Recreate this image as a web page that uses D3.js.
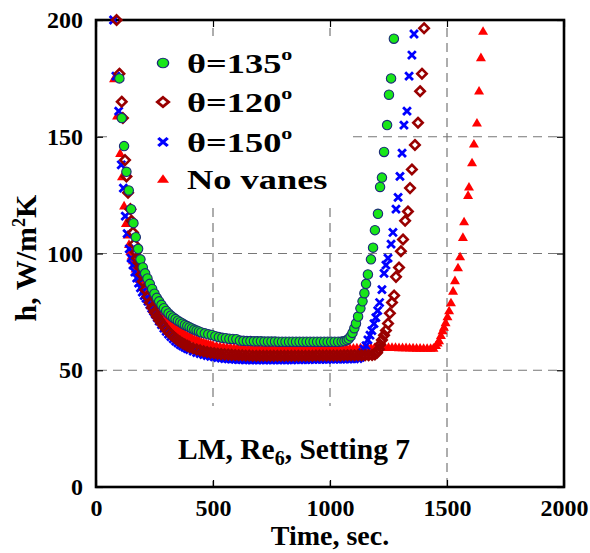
<!DOCTYPE html>
<html>
<head>
<meta charset="utf-8">
<script src="https://cdn.jsdelivr.net/npm/d3@7/dist/d3.min.js"></script>
<style>
  body { margin: 0; background: #fff; }
  svg { display: block; }
  text { font-family: "Liberation Serif", "Times New Roman", serif; font-weight: bold; fill: #000; }
</style>
</head>
<body>
<svg id="chart" width="590" height="553"></svg>
<script>
// Axis ticks
const xTicks = [0, 500, 1000, 1500, 2000];
const yTicks = [0, 50, 100, 150, 200];
const xGrid = [500, 1000, 1500];
const yGrid = [50, 100, 150];

// Heat transfer coefficient h (W/m²K) against time (s): [time, h]
const theta135 = [
  [100,175],[110,158],[120,146],[130,135],[140,127],[150,119],[160,113],[170,107],[180,102],[190,97.5],
  [200,94],[210,91.5],[220,89.3],[230,87],[240,84.8],[250,82.8],[260,81],[270,79.5],[280,78],[290,76.6],
  [300,75.4],[310,74.3],[320,73.4],[330,72.6],[340,71.9],[350,71.2],[360,70.6],[370,70],[380,69.4],[390,68.9],
  [400,68.4],[410,67.9],[420,67.4],[430,67],[440,66.6],[450,66.2],[465,65.8],[480,65.4],[495,65.1],[510,64.6],
  [525,64.2],[540,63.9],[555,63.7],[570,63.5],[585,63.4],[600,63.3],[615,62.7],[630,62.6],[645,62.5],[660,62.5],
  [675,62.4],[690,62.4],[705,62.4],[720,62.3],[735,62.3],[750,62.3],[765,62.3],[780,62.2],[795,62.2],[810,62.2],
  [825,62.2],[840,62.2],[855,62.2],[870,62.2],[885,62.2],[900,62.2],[915,62.2],[930,62.2],[945,62.2],[960,62.2],
  [975,62.2],[990,62.2],[1005,62.2],[1020,62.2],[1035,62.2],[1050,62.3],[1062,62.5],[1072,62.9],[1080,63.5],[1088,64.5],
  [1096,66],[1104,68],[1111,70],[1120,73],[1130,76.5],[1139,79.5],[1147,83],[1154,87],[1162,91],[1175,97.5],
  [1184,102.5],[1192,110],[1205,117],[1214,128.5],[1222,132.5],[1231,143.5],[1244,155],[1252,168],[1261,175],[1273,192]
];
const theta120 = [
  [88,200],[100,177],[110,165],[115,158],[124,140],[130,133],[137,126],[147,119],[152,114],[158,109],
  [163,104],[170,100.5],[175,98],[182,96],[188,94],[194,91],[200,88],[210,84.5],[220,81.5],[230,79],
  [240,76.8],[250,74.8],[260,73],[270,71.4],[280,70],[290,68.7],[300,67.5],[310,66.4],[320,65.4],[330,64.5],
  [340,63.7],[350,62.9],[360,62.2],[370,61.6],[380,61],[390,60.5],[400,60],[415,59.4],[430,58.9],[445,58.5],
  [460,58.1],[475,57.8],[490,57.5],[505,57.3],[520,57.1],[535,56.9],[550,56.8],[565,56.7],[580,56.6],[595,56.5],
  [610,56.4],[625,56.4],[640,56.3],[655,56.3],[670,56.2],[685,56.2],[700,56.2],[715,56.2],[730,56.2],[745,56.2],
  [760,56.2],[775,56.2],[790,56.2],[805,56.2],[820,56.2],[835,56.2],[850,56.2],[865,56.2],[880,56.2],[895,56.2],
  [910,56.2],[925,56.2],[940,56.3],[955,56.3],[970,56.3],[985,56.3],[1000,56.3],[1015,56.3],[1030,56.3],[1045,56.3],
  [1060,56.4],[1075,56.4],[1090,56.4],[1105,56.4],[1120,56.4],[1135,56.4],[1150,56.4],[1165,56.4],[1180,56.5],[1192,56.8],
  [1201,57.5],[1209,59],[1214,61],[1222,63],[1231,65],[1239,67],[1248,70],[1256,74.4],[1265,79],[1274,82],
  [1282,90],[1295,94],[1303,101],[1312,106],[1321,114],[1333,118],[1342,128],[1350,136],[1363,146.5],[1376,156],
  [1385,169.5],[1393,177],[1402,196.5]
];
const theta150 = [
  [75,200],[85,176],[97,161],[108,138],[117,128],[125,116],[133,108.5],[142,102],[150,98],[158,95],
  [166,92],[174,89.5],[182,87.3],[190,85.3],[198,83.5],[206,82],[214,80.8],[222,79.5],[230,78],[238,76.5],
  [246,75.2],[254,73.8],[262,72.4],[270,71],[280,69.5],[290,68],[300,66.7],[310,65.5],[320,64.4],[330,63.4],
  [340,62.5],[350,61.7],[360,61],[370,60.4],[380,59.8],[390,59.3],[400,58.8],[415,58.2],[430,57.6],[445,57.1],
  [460,56.7],[475,56.3],[490,56],[505,55.7],[520,55.4],[535,55.2],[550,55],[565,54.9],[580,54.8],[595,54.7],
  [610,54.6],[625,54.6],[640,54.5],[655,54.5],[670,54.4],[685,54.4],[700,54.4],[715,54.4],[730,54.4],[745,54.4],
  [760,54.4],[775,54.5],[790,54.5],[805,54.5],[820,54.5],[835,54.5],[850,54.6],[865,54.6],[880,54.6],[895,54.6],
  [910,54.6],[925,54.7],[940,54.7],[955,54.7],[970,54.7],[985,54.7],[1000,54.8],[1015,54.8],[1030,54.8],[1045,54.8],
  [1060,54.8],[1075,54.9],[1090,54.9],[1105,54.9],[1120,55],[1130,55.5],[1138,57.5],[1145,59],[1154,60.5],[1162,63],
  [1171,65],[1179,67],[1188,70],[1196,72.5],[1204,75.5],[1212,79],[1222,84.5],[1231,91.5],[1239,95],[1248,98],
  [1261,104],[1269,109],[1282,119],[1291,124],[1299,133],[1308,143],[1316,155],[1329,161],[1338,176],[1350,185],
  [1359,194]
];
const noVanes = [
  [77,175],[90,159],[103,143],[111,133],[120,120.5],[128,113],[135,108],[141,104],[147,101],[152,99],
  [158,97],[163,95.5],[169,93.5],[175,92],[182,90.3],[188,89],[194,87.7],[200,86.5],[210,84.5],[220,82.7],
  [230,81],[240,79.4],[250,78],[260,76.7],[270,75.4],[280,74.2],[290,73.1],[300,72],[310,71],[320,70.1],
  [330,69.2],[340,68.4],[350,67.6],[360,66.9],[370,66.2],[380,65.6],[390,65],[400,64.5],[410,64],[420,63.5],
  [430,63.1],[440,62.7],[450,62.3],[460,62],[470,61.7],[480,61.4],[490,61.1],[500,60.9],[515,60.6],[530,60.4],
  [545,60.2],[560,60],[575,59.9],[590,59.8],[605,59.7],[620,59.6],[635,59.6],[650,59.5],[665,59.5],[680,59.5],
  [695,59.5],[710,59.4],[725,59.4],[740,59.5],[755,59.4],[770,59.3],[785,59.4],[800,59.4],[815,59.3],[830,59.4],
  [845,59.4],[860,59.3],[875,59.3],[890,59.4],[905,59.4],[920,59.3],[935,59.3],[950,59.4],[965,59.4],[980,59.3],
  [995,59.3],[1010,59.4],[1025,59.4],[1040,59.5],[1055,59.5],[1070,59.5],[1085,59.6],[1100,59.6],[1115,59.7],[1130,59.7],
  [1145,59.7],[1160,59.8],[1175,59.8],[1190,59.8],[1205,59.9],[1220,59.9],[1235,59.9],[1250,59.9],[1265,59.9],[1280,59.9],
  [1295,59.8],[1310,59.8],[1325,59.8],[1340,59.7],[1355,59.7],[1370,59.6],[1385,59.6],[1400,59.5],[1415,59.5],[1430,59.5],
  [1442,59.6],[1453,60.7],[1460,61.8],[1466,62.8],[1474,65],[1481,67],[1487,68.5],[1494,70.5],[1502,73],[1509,75.6],
  [1517,79],[1526,84],[1534,88.5],[1547,94],[1556,98.7],[1568,107],[1573,113.7],[1590,125],[1594,128.6],[1607,139],
  [1615,147],[1628,156],[1637,169.7],[1645,184],[1654,195.3]
];

const legendLabels = ["θ=135", "θ=120", "θ=150", "No vanes"];

const svg = d3.select("#chart");
const x = d3.scaleLinear().domain([0, 2000]).range([96, 564]);
const y = d3.scaleLinear().domain([0, 200]).range([487, 20]);

// Marker styles
const markers = {
  circle: g => g.append("circle").attr("r", 4.7).attr("fill", "#19e619").attr("stroke", "#1c2a78").attr("stroke-width", 1.1),
  diamond: g => g.append("path").attr("d", "M0,-4.7L4.7,0L0,4.7L-4.7,0Z").attr("fill", "none").attr("stroke", "#990000").attr("stroke-width", 2.6),
  cross: g => g.append("path").attr("d", "M-3.9,-3.9L3.9,3.9M3.9,-3.9L-3.9,3.9").attr("fill", "none").attr("stroke", "#0000ff").attr("stroke-width", 2.8),
  triangle: g => g.append("path").attr("d", "M0,-4.8L5,3.8L-5,3.8Z").attr("fill", "#ff0000")
};

// Grid lines
const grid = svg.append("g").attr("stroke", "#777").attr("stroke-width", 1.2).attr("stroke-dasharray", "9,6");
grid.selectAll("line.v").data(xGrid).join("line").attr("class", "v")
  .attr("x1", d => x(d)).attr("x2", d => x(d)).attr("y1", y(200) + 8).attr("y2", y(0));
grid.selectAll("line.h").data(yGrid).join("line").attr("class", "h")
  .attr("x1", x(0) + 2).attr("x2", x(2000) - 6).attr("y1", d => y(d)).attr("y2", d => y(d));

// Legend and annotation backgrounds
svg.append("rect").attr("x", 111).attr("y", 36).attr("width", 236).attr("height", 167).attr("fill", "#fff");
svg.append("rect").attr("x", 160).attr("y", 406).attr("width", 280).attr("height", 75).attr("fill", "#fff");

// Axes with inward ticks
const axB = svg.append("g").attr("transform", `translate(0,${y(0)})`)
  .call(d3.axisBottom(x).tickValues(xTicks).tickSize(-7).tickPadding(12).tickFormat(d3.format("d")));
const axL = svg.append("g").attr("transform", `translate(${x(0)},0)`)
  .call(d3.axisLeft(y).tickValues(yTicks).tickSize(-7).tickPadding(13).tickFormat(d3.format("d")));
const axT = svg.append("g").attr("transform", `translate(0,${y(200)})`)
  .call(d3.axisTop(x).tickValues(xTicks).tickSize(-7).tickFormat(""));
const axR = svg.append("g").attr("transform", `translate(${x(2000)},0)`)
  .call(d3.axisRight(y).tickValues(yTicks).tickSize(-7).tickFormat(""));
[axB, axL, axT, axR].forEach(a => {
  a.attr("font-family", "Liberation Serif, serif").attr("font-size", 24);
  a.select(".domain").remove();
  a.selectAll(".tick line").attr("stroke", "#000").attr("stroke-width", 1.2);
  a.selectAll("text").attr("font-size", 24).attr("font-weight", "bold");
});

// Plot frame
svg.append("rect").attr("x", x(0)).attr("y", y(200)).attr("width", x(2000) - x(0)).attr("height", y(0) - y(200))
  .attr("fill", "none").attr("stroke", "#000").attr("stroke-width", 2.6);

// Data series, drawn bottom to top
const series = [
  { data: noVanes, marker: "triangle" },
  { data: theta150, marker: "cross" },
  { data: theta120, marker: "diamond" },
  { data: theta135, marker: "circle" }
];
series.forEach(s => {
  const g = svg.append("g");
  g.selectAll("g").data(s.data).join("g")
    .attr("transform", d => `translate(${x(d[0])},${y(d[1])})`)
    .each(function () { markers[s.marker](d3.select(this)); });
});

// Legend
const legendMarkers = ["circle", "diamond", "cross", "triangle"];
const legendRows = [63, 102, 142, 179];
legendLabels.forEach((lab, i) => {
  const m = svg.append("g").attr("transform", `translate(163,${legendRows[i]}) scale(1.2,1)`);
  markers[legendMarkers[i]](m);
  const t = svg.append("g").attr("transform", `translate(187,${legendRows[i] + 10}) scale(1.3,1)`)
    .append("text").attr("font-size", 28).text(lab);
  if (i < 3) t.append("tspan").attr("font-size", 17).attr("dy", -13).text("o");
});

// Annotation
const ann = svg.append("text").attr("x", 294).attr("y", 459).attr("text-anchor", "middle").attr("font-size", 29.5);
ann.append("tspan").text("LM, Re");
ann.append("tspan").attr("font-size", 20).attr("dy", 6).text("6");
ann.append("tspan").attr("dy", -6).text(", Setting 7");

// Axis titles
svg.append("text").attr("x", 330).attr("y", 545).attr("text-anchor", "middle").attr("font-size", 28).text("Time, sec.");
const yt = svg.append("text").attr("transform", "translate(36,258) rotate(-90)").attr("text-anchor", "middle").attr("font-size", 30);
yt.append("tspan").text("h, W/m");
yt.append("tspan").attr("font-size", 18).attr("dy", -11).text("2");
yt.append("tspan").attr("dy", 11).text("K");
</script>
</body>
</html>
